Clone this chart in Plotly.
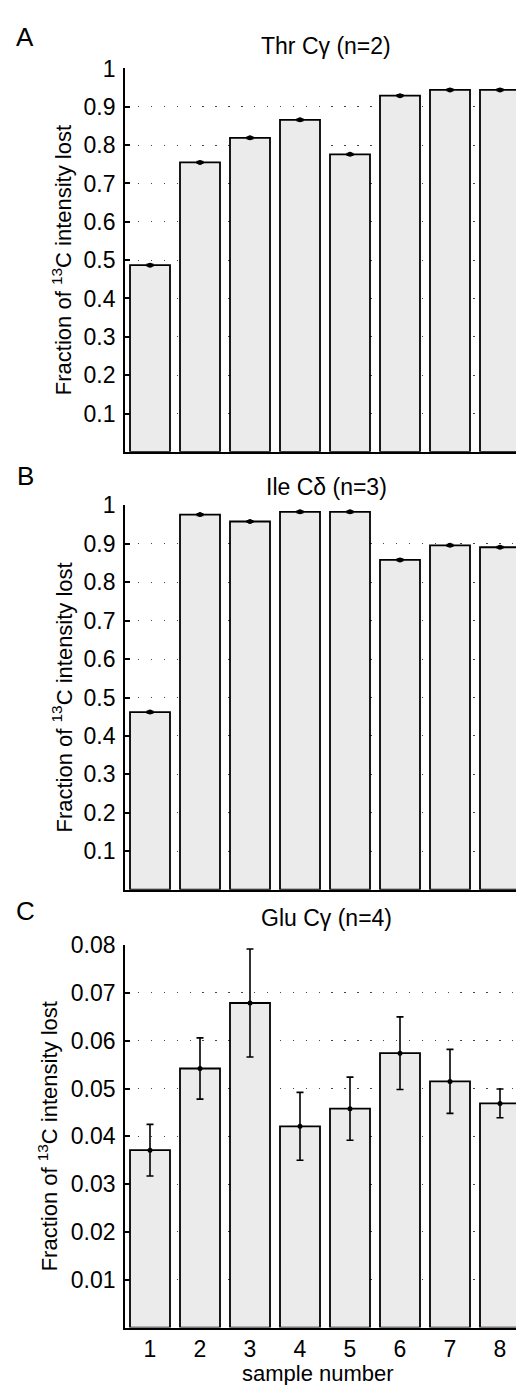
import plotly.graph_objects as go

W, H = 516, 1385
FONT = "Liberation Sans, Arial, Helvetica, sans-serif"

samples = [1, 2, 3, 4, 5, 6, 7, 8]
sample_labels = ["1", "2", "3", "4", "5", "6", "7", "8"]

thr_values = [0.487, 0.755, 0.819, 0.866, 0.776, 0.929, 0.944, 0.944]
thr_err = [0.002, 0.002, 0.002, 0.002, 0.002, 0.002, 0.002, 0.002]

ile_values = [0.462, 0.976, 0.958, 0.983, 0.983, 0.858, 0.896, 0.891]
ile_err = [0.002, 0.002, 0.002, 0.002, 0.002, 0.002, 0.002, 0.002]

glu_values = [0.0371, 0.0542, 0.0679, 0.0421, 0.0458, 0.0574, 0.0515, 0.0469]
glu_err = [0.0054, 0.0064, 0.0113, 0.0071, 0.0066, 0.0076, 0.0067, 0.0030]

ab_ticks = [0.1, 0.2, 0.3, 0.4, 0.5, 0.6, 0.7, 0.8, 0.9, 1.0]
ab_ticktext = ["0.1", "0.2", "0.3", "0.4", "0.5", "0.6", "0.7", "0.8", "0.9", "1"]
c_ticks = [0.01, 0.02, 0.03, 0.04, 0.05, 0.06, 0.07, 0.08]
c_ticktext = ["0.01", "0.02", "0.03", "0.04", "0.05", "0.06", "0.07", "0.08"]

titles = ["Thr C\u03b3 (n=2)", "Ile C\u03b4 (n=3)", "Glu C\u03b3 (n=4)"]
letters = ["A", "B", "C"]
ylabel = "Fraction of <sup>13</sup>C intensity lost"
xlabel = "sample number"


def yp(px):
    return 1 - px / H


def xp(px):
    return px / W


# pixel geometry of the three panels (top, bottom)
panels = [(56, 443), (497, 885), (941, 1327)]
x_left = 125

fig = go.Figure()

datasets = [
    (thr_values, thr_err, [0, 1.0], ab_ticks, ab_ticktext),
    (ile_values, ile_err, [0, 1.0], ab_ticks, ab_ticktext),
    (glu_values, glu_err, [0, 0.08], c_ticks, c_ticktext),
]

annotations = []
for i, (vals, errs, yr, tv, tt) in enumerate(datasets):
    n = "" if i == 0 else str(i + 1)
    xa, ya = "x" + n, "y" + n
    fig.add_trace(go.Bar(
        x=samples, y=vals, width=0.8,
        marker=dict(color="#ebebeb", line=dict(color="black", width=1.8)),
        xaxis=xa, yaxis=ya, showlegend=False,
    ))
    fig.add_trace(go.Scatter(
        x=samples, y=vals, mode="markers",
        marker=dict(color="black", size=5),
        error_y=dict(type="data", array=errs, visible=True,
                     color="black", thickness=1.6, width=3.5),
        xaxis=xa, yaxis=ya, showlegend=False,
    ))
    top, bot = panels[i]
    fig.layout["xaxis" + n] = dict(
        domain=[xp(x_left), 1], range=[0.5, 0.5 + (W - x_left) / 50.0],
        anchor=ya, showline=True, linecolor="black", linewidth=1.8,
        showgrid=False, zeroline=False, ticks="",
        tickvals=samples, ticktext=sample_labels,
        showticklabels=(i == 2),
        tickfont=dict(family=FONT, size=23, color="black"),
    )
    fig.layout["yaxis" + n] = dict(
        domain=[yp(bot), yp(top)], range=yr, anchor=xa,
        showline=True, linecolor="black", linewidth=1.8,
        ticks="inside", ticklen=5, tickwidth=1.5, tickcolor="black",
        tickvals=tv, ticktext=tt, ticklabelstandoff=3,
        tickfont=dict(family=FONT, size=23, color="black"),
        showgrid=True, gridcolor="#444444", gridwidth=1.4,
        griddash="1.4px,11.5px", zeroline=False,
    )
    # panel title
    title_y = [33, 478, 914][i]
    annotations.append(dict(
        text=titles[i], x=xp(326), y=yp(title_y), xref="paper", yref="paper",
        xanchor="center", yanchor="middle", showarrow=False,
        font=dict(family=FONT, size=23, color="black"),
    ))
    # panel letter
    letter_y = [24, 467, 907][i]
    annotations.append(dict(
        text=letters[i], x=xp(25), y=yp(letter_y), xref="paper", yref="paper",
        xanchor="center", yanchor="middle", showarrow=False,
        font=dict(family=FONT, size=26, color="black"),
    ))
    # y label
    lab_x = [62, 62, 48][i]
    annotations.append(dict(
        text=ylabel, x=xp(lab_x), y=yp((top + bot) / 2), xref="paper", yref="paper",
        xanchor="center", yanchor="middle", showarrow=False, textangle=-90,
        font=dict(family=FONT, size=22, color="black"),
    ))

annotations.append(dict(
    text=xlabel, x=xp(318), y=yp(1373), xref="paper", yref="paper",
    xanchor="center", yanchor="middle", showarrow=False,
    font=dict(family=FONT, size=22, color="black"),
))

fig.update_layout(
    width=W, height=H, margin=dict(l=0, r=0, t=0, b=0),
    paper_bgcolor="white", plot_bgcolor="white",
    bargap=0.2, annotations=annotations,
    font=dict(family=FONT, color="black"),
)

fig.write_html(
    "out.html",
    config={"displayModeBar": False},
    post_script="document.body.style.margin='0';document.body.style.overflow='hidden';",
)
